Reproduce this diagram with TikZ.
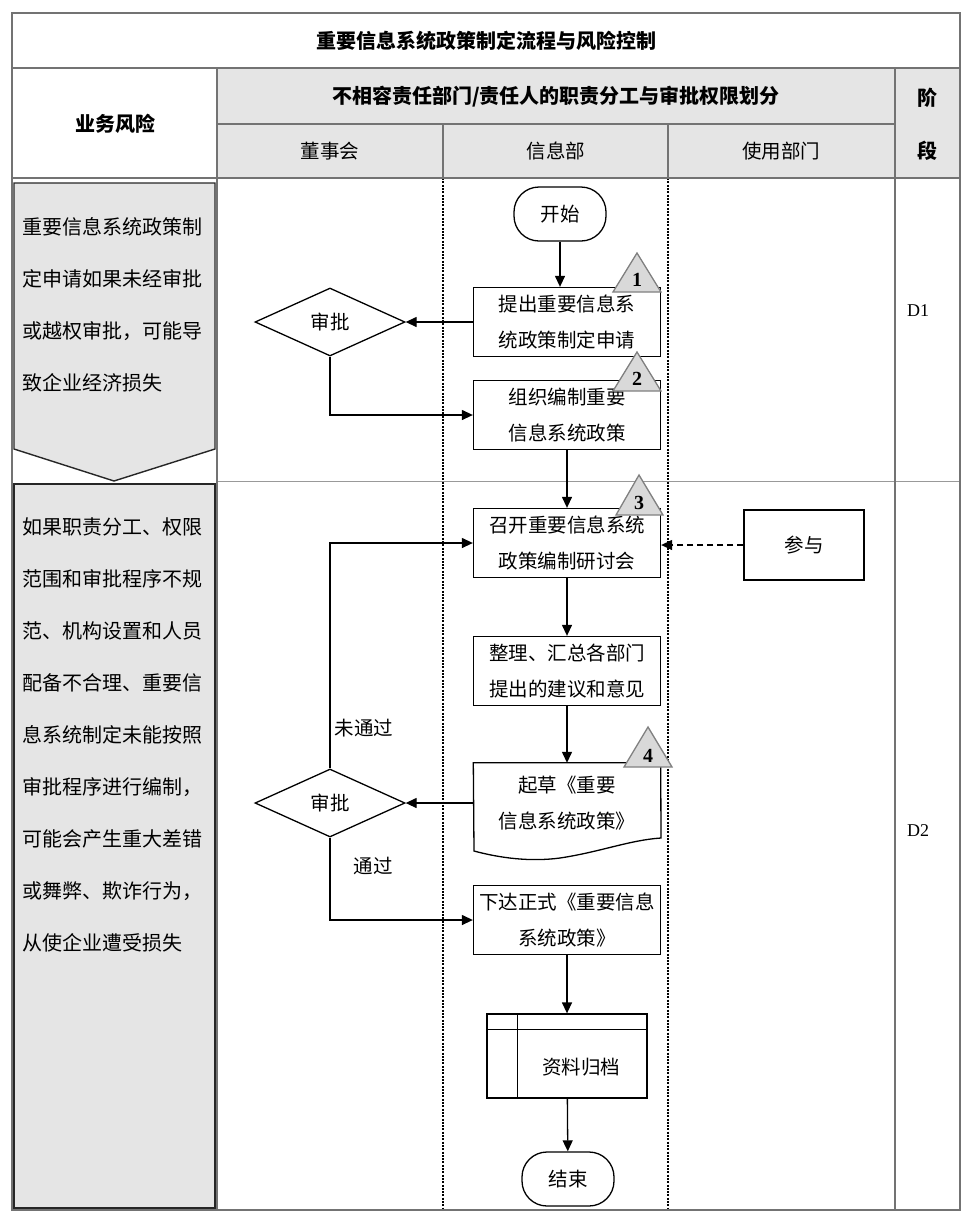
\documentclass[tikz,border=0pt]{standalone}
\usepackage{fontspec}
\setmainfont{Liberation Serif}
\newfontfamily\cjk{Noto Sans CJK SC}
\usetikzlibrary{arrows.meta,shapes.geometric}

\begin{document}
\begin{tikzpicture}[x=1pt, y=-1pt, >={Triangle[length=11pt,width=10pt]}]
    \tikzstyle{grid line} = [draw=black!55, line width=1.6pt]
    \tikzstyle{thin grid line} = [draw=black!40, line width=1pt]
    \tikzstyle{lane line} = [draw=black, line width=2.4pt, dash pattern=on 2pt off 1.3pt]
    \tikzstyle{head cell} = [fill=black!10]
    \tikzstyle{cjk text} = [font=\fontsize{19.5}{36}\selectfont\cjk, inner sep=0pt]
    \tikzstyle{head text} = [font=\fontsize{20}{36}\selectfont\cjk\bfseries, inner sep=0pt]
    \tikzstyle{risk panel} = [fill=black!10, draw=black!85, line width=1.4pt]
    \tikzstyle{risk text} = [font=\fontsize{20}{36}\selectfont\cjk, inner sep=0pt, anchor=west]
    \tikzstyle{flow box} = [cjk text, rectangle, draw=black, line width=1.3pt, fill=white, minimum width=187pt, minimum height=69pt, align=center]
    \tikzstyle{flow terminal} = [cjk text, rectangle, rounded corners=25pt, draw=black, line width=1.3pt, fill=white, minimum width=92pt, minimum height=54pt]
    \tikzstyle{flow decision} = [cjk text, diamond, draw=black, line width=1.3pt, fill=white, minimum width=150pt, minimum height=68pt]
    \tikzstyle{step mark} = [fill=black!15, draw=black!50, line width=1.3pt]
    \tikzstyle{step num} = [font=\fontsize{20}{20}\selectfont\bfseries, inner sep=0pt]
    \tikzstyle{flow edge} = [draw=black, line width=1.3pt]
    \tikzstyle{flow edge directed} = [flow edge, ->]
    \tikzstyle{flow edge dashed} = [flow edge directed, dash pattern=on 6pt off 4pt]
\useasboundingbox (0,0) rectangle (972,1229);
% table frame
\fill[head cell] (217,68) rectangle (960,178);
\draw[thin grid line] (217,481) -- (960,481);
\draw[lane line] (443,178) -- (443,1210);
\draw[lane line] (668,178) -- (668,1210);
\draw[grid line] (12,13) rectangle (960,1210);
\draw[grid line] (12,68) -- (960,68);
\draw[grid line] (12,178) -- (960,178);
\draw[grid line] (217,124) -- (895,124);
\draw[grid line] (217,68) -- (217,1210);
\draw[grid line] (895,68) -- (895,1210);
\draw[grid line] (443,124) -- (443,178);
\draw[grid line] (668,124) -- (668,178);
\node[head text] (title) at (486,41) {重要信息系统政策制定流程与风险控制};
\node[head text] (riskhead) at (115,124) {业务风险};
\node[head text] (duty) at (556,97) {不相容责任部门/责任人的职责分工与审批权限划分};
\node[head text] (stagea) at (927,98) {阶};
\node[head text] (stageb) at (927,151) {段};
\node[cjk text] (board) at (330,151) {董事会};
\node[cjk text] (infodept) at (556,151) {信息部};
\node[cjk text] (userdept) at (781,151) {使用部门};
\node[font=\fontsize{18}{18}\selectfont, inner sep=0pt] (d1) at (918,311) {D1};
\node[font=\fontsize{18}{18}\selectfont, inner sep=0pt] (d2) at (918,831) {D2};
% risks
\filldraw[risk panel] (14,183) -- (215,183) -- (215,449) -- (114,481) -- (14,449) -- cycle;
\filldraw[risk panel] (14,484) rectangle (215,1208);
\foreach \txt [count=\i] in {重要信息系统政策制, 定申请如果未经审批, 或越权审批，可能导, 致企业经济损失}
    \node[risk text] (riska\i) at (22,175+52*\i) {\txt};
\foreach \txt [count=\i] in {如果职责分工、权限, 范围和审批程序不规, 范、机构设置和人员, 配备不合理、重要信, 息系统制定未能按照, 审批程序进行编制，, 可能会产生重大差错, 或舞弊、欺诈行为，, 从使企业遭受损失}
    \node[risk text] (riskb\i) at (22,475+52*\i) {\txt};
% flow
\node[flow terminal] (start) at (560,214) {开始};
\node[flow box] (apply) at (567,322) {提出重要信息系\\统政策制定申请};
\node[flow decision] (approvea) at (330,322) {审批};
\node[flow box] (compile) at (567,415) {组织编制重要\\信息系统政策};
\node[flow box] (meeting) at (567,543) {召开重要信息系统\\政策编制研讨会};
\node[flow box, minimum width=120pt, minimum height=70pt] (join) at (804,545) {参与};
\node[flow box] (collect) at (567,671) {整理、汇总各部门\\提出的建议和意见};
\node[cjk text, minimum width=187pt, minimum height=80pt, align=center] (draft) at (567,803) {起草《重要\\信息系统政策》};
\draw[flow edge] (draft.north west) -- (draft.north east) -- (661,838) .. controls (630,840) and (600,852) .. (560,858) .. controls (530,862) and (500,858) .. (474,851) -- cycle;
\node[flow decision] (approveb) at (330,803) {审批};
\node[flow box] (issue) at (567,920) {下达正式《重要信息\\系统政策》};
\node[flow box, minimum width=160pt, minimum height=84pt] (archive) at (567,1056) {};
\draw[flow edge] ([yshift=-16pt]archive.north west) -- ([yshift=-16pt]archive.north east);
\draw[flow edge] ([xshift=31pt]archive.north west) -- ([xshift=31pt]archive.south west);
\node[cjk text] (archivelabel) at (581,1067) {资料归档};
\node[flow terminal] (finish) at (568,1179) {结束};
\node[cjk text] (fail) at (364,728) {未通过};
\node[cjk text] (pass) at (373,866) {通过};
\draw[flow edge directed] (start.south) -- (start.south |- apply.north);
\draw[flow edge directed] (apply.west) -- (approvea.east);
\draw[flow edge directed] (approvea.south) |- (compile.west);
\draw[flow edge directed] (compile) -- (meeting);
\draw[flow edge dashed] (join.west) -- (join.west -| meeting.east);
\draw[flow edge directed] (meeting) -- (collect);
\draw[flow edge directed] (collect) -- (draft);
\draw[flow edge directed] (draft.west) -- (approveb.east);
\draw[flow edge directed] (approveb.north) |- (meeting.west);
\draw[flow edge directed] (approveb.south) |- (issue.west);
\draw[flow edge directed] (issue) -- (archive);
\draw[flow edge directed] (archive) -- (finish);
% step marks
\filldraw[step mark] (637,253) -- (661,292) -- (613,292) -- cycle;
\node[step num] (num1) at (637,280) {1};
\filldraw[step mark] (637,352) -- (661,391) -- (613,391) -- cycle;
\node[step num] (num2) at (637,379) {2};
\filldraw[step mark] (639,475) -- (663,515) -- (616,515) -- cycle;
\node[step num] (num3) at (639,503) {3};
\filldraw[step mark] (648,727) -- (672,767) -- (624,767) -- cycle;
\node[step num] (num4) at (648,756) {4};
\end{tikzpicture}
\end{document}
